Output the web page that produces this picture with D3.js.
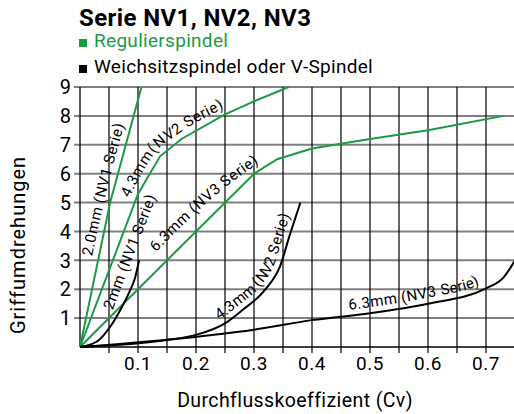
<!DOCTYPE html>
<html>
<head>
<meta charset="utf-8">
<script src="https://cdn.jsdelivr.net/npm/d3@7"></script>
<style>
  body { margin: 0; background: #fff; }
  svg { display: block; font-family: Roboto, "Liberation Sans", sans-serif; }
</style>
</head>
<body>
<div id="chart-container"></div>
<script>
// Chart values (Cv, turns)
const cvTicks = [0.1, 0.2, 0.3, 0.4, 0.5, 0.6, 0.7];
const turnTicks = [1, 2, 3, 4, 5, 6, 7, 8, 9];
const cvGrid = [0.05, 0.1, 0.15, 0.2, 0.25, 0.3, 0.35, 0.4, 0.45, 0.5, 0.55, 0.6, 0.65, 0.7];

// Regulierspindel (green)
const nv1Regul = [[0, 0], [0.052, 5], [0.106, 9]];
const nv2Regul = [[0, 0], [0.1, 5.3], [0.138, 6.6], [0.175, 7.2], [0.25, 8.05], [0.3, 8.5], [0.36, 9]];
const nv3Regul = [[0, 0], [0.3, 6], [0.34, 6.5], [0.4, 6.87], [0.5, 7.2], [0.6, 7.5], [0.73, 8.0]];
// Weichsitzspindel oder V-Spindel (black)
const nv1Weich = [[0, 0], [0.03, 0.2], [0.052, 0.7], [0.07, 1.3], [0.085, 1.9], [0.095, 2.4], [0.102, 3.0]];
const nv2Weich = [[0, 0], [0.15, 0.24], [0.2, 0.42], [0.25, 0.82], [0.28, 1.28], [0.32, 2.0], [0.345, 2.8], [0.362, 3.9], [0.38, 5.0]];
const nv3Weich = [[0, 0], [0.15, 0.25], [0.3, 0.6], [0.4, 0.93], [0.5, 1.17], [0.6, 1.5], [0.7, 2.03], [0.73, 2.4], [0.75, 3.0]];

const legendLabels = ["Regulierspindel", "Weichsitzspindel oder V-Spindel"];
const curveLabels = ["2.0mm (NV1 Serie)", "4.3mm(NV2 Serie)", "6.3mm (NV3 Serie)", "2mm (NV1 Serie)", "4.3mm (NV2 Serie)", "6.3mm (NV3 Serie)"];

const green = "#1b9a45";
const width = 514, height = 414;

const svg = d3.select("#chart-container")
  .append("svg")
  .attr("width", width)
  .attr("height", height);

// Scales
const x = d3.scaleLinear().domain([0, 0.75]).range([80, 515]);
const y = d3.scaleLinear().domain([0, 9]).range([347, 87]);

// Title and legend
svg.append("text")
  .attr("x", 79).attr("y", 26)
  .attr("font-size", 24).attr("font-weight", "bold")
  .attr("letter-spacing", 0.4)
  .text("Serie NV1, NV2, NV3");

const legend = svg.append("g");
[green, "#000"].forEach((c, i) => {
  legend.append("rect")
    .attr("x", 79).attr("y", 39 + i * 26)
    .attr("width", 8).attr("height", 8)
    .attr("fill", c);
  legend.append("text")
    .attr("x", 94).attr("y", 47 + i * 26)
    .attr("font-size", 19)
    .attr("letter-spacing", 0.3)
    .attr("fill", i === 0 ? green : "#000")
    .text(legendLabels[i]);
});

// Horizontal grid (grey) with left ticks
svg.append("g")
  .selectAll("line")
  .data(turnTicks)
  .join("line")
  .attr("x1", 74).attr("x2", width)
  .attr("y1", d => y(d)).attr("y2", d => y(d))
  .attr("stroke", "#808080")
  .attr("stroke-width", 2);

// Vertical grid (black) with bottom ticks
svg.append("g")
  .selectAll("line")
  .data(cvGrid)
  .join("line")
  .attr("x1", d => x(d)).attr("x2", d => x(d))
  .attr("y1", y(9)).attr("y2", y(0) + 6)
  .attr("stroke", "#000")
  .attr("stroke-width", 1.2);

// Axes lines
svg.append("line")
  .attr("x1", x(0)).attr("x2", x(0))
  .attr("y1", y(9)).attr("y2", y(0))
  .attr("stroke", "#000").attr("stroke-width", 1.3);
svg.append("line")
  .attr("x1", x(0)).attr("x2", width)
  .attr("y1", y(0)).attr("y2", y(0))
  .attr("stroke", "#000").attr("stroke-width", 1.3);

// Tick labels
svg.append("g")
  .selectAll("text")
  .data(turnTicks)
  .join("text")
  .attr("x", 71).attr("y", d => y(d))
  .attr("dy", "0.36em")
  .attr("text-anchor", "end")
  .attr("font-size", 20)
  .text(d => d);

svg.append("g")
  .selectAll("text")
  .data(cvTicks)
  .join("text")
  .attr("x", d => x(d)).attr("y", 370)
  .attr("text-anchor", "middle")
  .attr("font-size", 19)
  .attr("letter-spacing", 0.6)
  .text(d => d3.format(".1f")(d));

// Axis titles
svg.append("text")
  .attr("x", 295).attr("y", 407)
  .attr("text-anchor", "middle")
  .attr("font-size", 19.5)
  .attr("letter-spacing", 0.4)
  .text("Durchflusskoeffizient (Cv)");

svg.append("text")
  .attr("transform", "translate(25,245) rotate(-90)")
  .attr("text-anchor", "middle")
  .attr("font-size", 20)
  .attr("letter-spacing", 1)
  .text("Griffumdrehungen");

// Curves
const lineLinear = d3.line().x(d => x(d[0])).y(d => y(d[1]));
const lineSmooth = d3.line().x(d => x(d[0])).y(d => y(d[1])).curve(d3.curveMonotoneX);

const series = [
  { data: nv1Regul, color: green, gen: lineLinear, label: curveLabels[0], offset: 0.34 },
  { data: nv2Regul, color: green, gen: lineLinear, label: curveLabels[1], offset: 0.44 },
  { data: nv3Regul, color: green, gen: lineLinear, label: curveLabels[2], offset: 0.24 },
  { data: nv1Weich, color: "#000", gen: lineSmooth, label: null },
  { data: nv2Weich, color: "#000", gen: lineSmooth, label: curveLabels[4], offset: 0.49 },
  { data: nv3Weich, color: "#000", gen: lineSmooth, label: curveLabels[5], offset: 0.6 },
];

const defs = svg.append("defs");
const curvesGroup = svg.append("g");
const labelsGroup = svg.append("g")
  .attr("font-size", 15)
  .attr("letter-spacing", 0.5);

series.forEach((s, i) => {
  curvesGroup.append("path")
    .datum(s.data)
    .attr("fill", "none")
    .attr("stroke", s.color)
    .attr("stroke-width", 2)
    .attr("d", s.gen);

  if (s.label) {
    // smoothed guide so glyphs flow across the kinks
    const guide = defs.append("path")
      .attr("id", "guide" + i)
      .attr("d", lineSmooth(s.data));
    const len = guide.node().getTotalLength();
    labelsGroup.append("text")
      .append("textPath")
      .attr("href", "#guide" + i)
      .attr("startOffset", len * s.offset)
      .append("tspan")
      .attr("dy", -6)
      .text(s.label);
  }
});

// 2mm (NV1) label runs straight past the end of its curve
labelsGroup.append("text")
  .attr("transform", `translate(${x(0.064)},${y(1.2)}) rotate(-69)`)
  .attr("dy", -5)
  .text(curveLabels[3]);
</script>
</body>
</html>
